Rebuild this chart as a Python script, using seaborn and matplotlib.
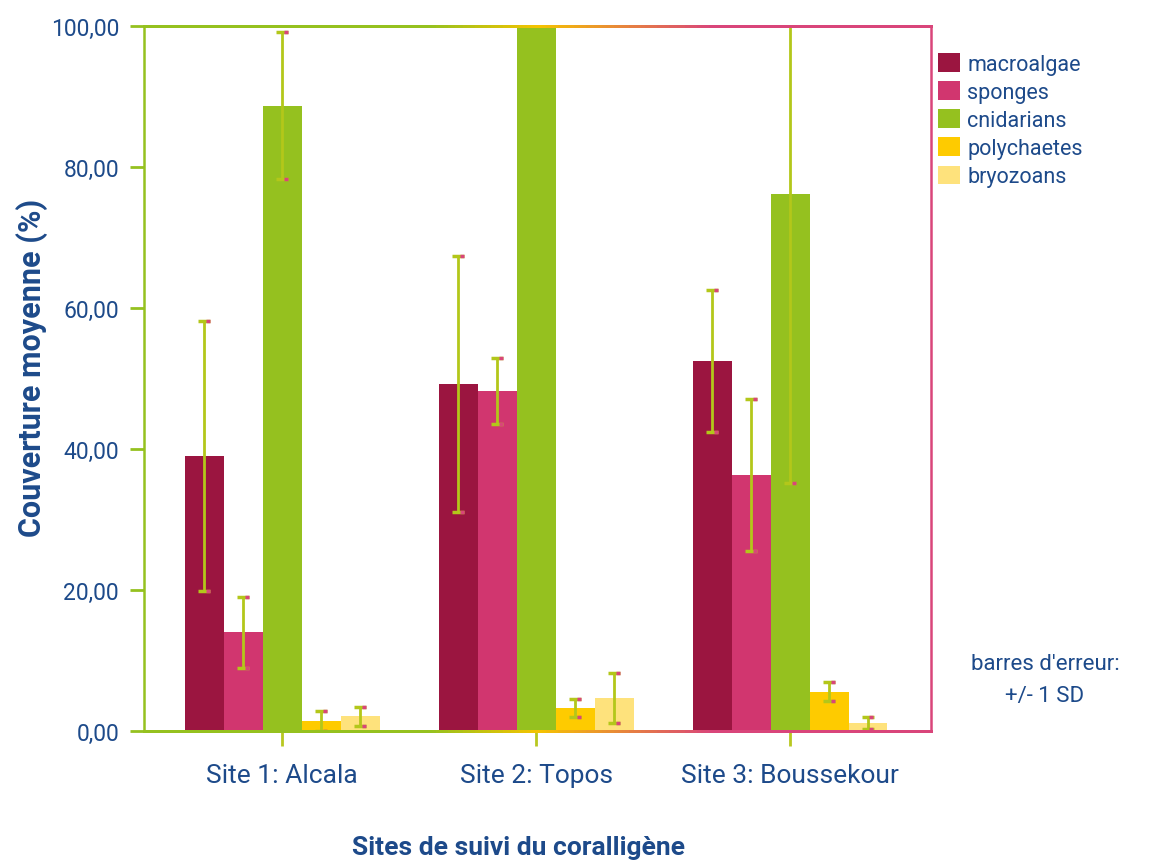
import numpy as np
import pandas as pd
import matplotlib
matplotlib.use("Agg")
import matplotlib.pyplot as plt
import matplotlib.transforms as mtransforms
from matplotlib.collections import LineCollection
from matplotlib.colors import LinearSegmentedColormap
import seaborn as sns

# ---- data ----
sites = ["Site 1: Alcala", "Site 2: Topos", "Site 3: Boussekour"]
groups = ["macroalgae", "sponges", "cnidarians", "polychaetes", "bryozoans"]
macroalgae = [39.0, 49.2, 52.5]
sponges = [14.0, 48.2, 36.3]
cnidarians = [88.7, 100.0, 76.2]
polychaetes = [1.4, 3.3, 5.6]
bryozoans = [2.1, 4.7, 1.1]
sd_macroalgae = [19.2, 18.2, 10.1]
sd_sponges = [5.0, 4.7, 10.8]
sd_cnidarians = [10.4, 0.0, 41.0]
sd_polychaetes = [1.4, 1.3, 1.35]
sd_bryozoans = [1.35, 3.5, 0.85]
yticks = [0, 20, 40, 60, 80, 100]
ytick_labels = ["0,00", "20,00", "40,00", "60,00", "80,00", "100,00"]

values = [macroalgae, sponges, cnidarians, polychaetes, bryozoans]
sds = [sd_macroalgae, sd_sponges, sd_cnidarians, sd_polychaetes, sd_bryozoans]
rows = []
for g, vals in zip(groups, values):
    for s, v in zip(sites, vals):
        rows.append({"site": s, "group": g, "value": v})
df = pd.DataFrame(rows)

palette = ["#9b1540", "#d1366f", "#95c11f", "#fecb00", "#fee27c"]
green = "#95c11f"
yellow = "#f5c300"
pink = "#d9457a"
txt = "#1d4a8a"

sns.set_style("white")
plt.rcParams["font.family"] = ["Roboto", "DejaVu Sans"]

fig = plt.figure(figsize=(11.5, 8.62), dpi=100)
ax = fig.add_axes([144 / 1150, 1 - 732 / 862, (931 - 144) / 1150, (732 - 27) / 862])

sns.barplot(data=df, x="site", y="value", hue="group", order=sites,
            hue_order=groups, palette=palette, errorbar=None, width=0.767,
            saturation=1, linewidth=0, ax=ax, legend=True)

# error bars
offset = mtransforms.ScaledTranslation(3.5 / 100, 0, fig.dpi_scale_trans)
for cont, sd in zip(ax.containers, sds):
    xs, ys, es = [], [], []
    for patch, e in zip(cont.patches, sd):
        if e <= 0:
            continue
        xs.append(patch.get_x() + patch.get_width() / 2)
        ys.append(patch.get_height())
        es.append(e)
    if not xs:
        continue
    ax.errorbar(xs, ys, yerr=es, fmt="none", ecolor="#b3c71a", elinewidth=2,
                capsize=4.5, capthick=2.5, zorder=4)
    ax.errorbar(xs, ys, yerr=es, fmt="none", ecolor=pink, elinewidth=0,
                capsize=1.6, capthick=2.5, zorder=5,
                transform=ax.transData + offset)

ax.set_xlim(-0.545, 2.555)
ax.set_ylim(0, 100)
ax.set_yticks(yticks)
ax.set_yticklabels(ytick_labels)

ax.tick_params(axis="y", direction="out", length=10, width=2, color=green,
               pad=8, labelsize=16.5, labelcolor=txt, left=True)
ax.tick_params(axis="x", direction="out", length=11, width=2, color="#b8c820",
               pad=12, labelsize=19, labelcolor=txt, bottom=True)

# frame
ax.spines["left"].set_color(green)
ax.spines["left"].set_linewidth(1.8)
ax.spines["right"].set_color(pink)
ax.spines["right"].set_linewidth(1.8)
ax.spines["top"].set_visible(False)
ax.spines["bottom"].set_visible(False)
cmap = LinearSegmentedColormap.from_list(
    "frame", [(0, green), (0.36, green), (0.5, yellow), (0.72, pink), (1, pink)])
xx = np.linspace(0, 1, 200)
for yy in (0, 1):
    pts = np.array([xx, np.full_like(xx, yy)]).T.reshape(-1, 1, 2)
    segs = np.concatenate([pts[:-1], pts[1:]], axis=1)
    lc = LineCollection(segs, colors=cmap(xx[:-1]), linewidths=1.8,
                        transform=ax.transAxes, clip_on=False, zorder=6,
                        capstyle="projecting", antialiaseds=False)
    ax.add_collection(lc)

ax.set_xlabel("")
ax.set_ylabel("")
fig.text(0.5 * (352 + 685) / 1150, 1 - 848 / 862, "Sites de suivi du coralligène",
         ha="center", va="center", fontsize=19, fontweight="bold", color=txt)
fig.text(32 / 1150, 1 - 368 / 862, "Couverture moyenne (%)", rotation=90,
         ha="center", va="center", fontsize=22, fontweight="bold", color=txt)

# legend
handles, labels = ax.get_legend_handles_labels()
ax.legend(handles, labels, loc="upper left",
          bbox_to_anchor=(938 / 1150, 1 - 54 / 862), bbox_transform=fig.transFigure,
          frameon=False, fontsize=15.5, labelcolor=txt, handlelength=1.0,
          handleheight=0.95, handletextpad=0.35, labelspacing=0.3, borderpad=0,
          borderaxespad=0)

fig.text(1045 / 1150, 1 - 665 / 862, "barres d'erreur:", ha="center", va="center",
         fontsize=16, color=txt)
fig.text(1045 / 1150, 1 - 697 / 862, "+/- 1 SD", ha="center", va="center",
         fontsize=16, color=txt)

fig.savefig("out.png", dpi=100)
